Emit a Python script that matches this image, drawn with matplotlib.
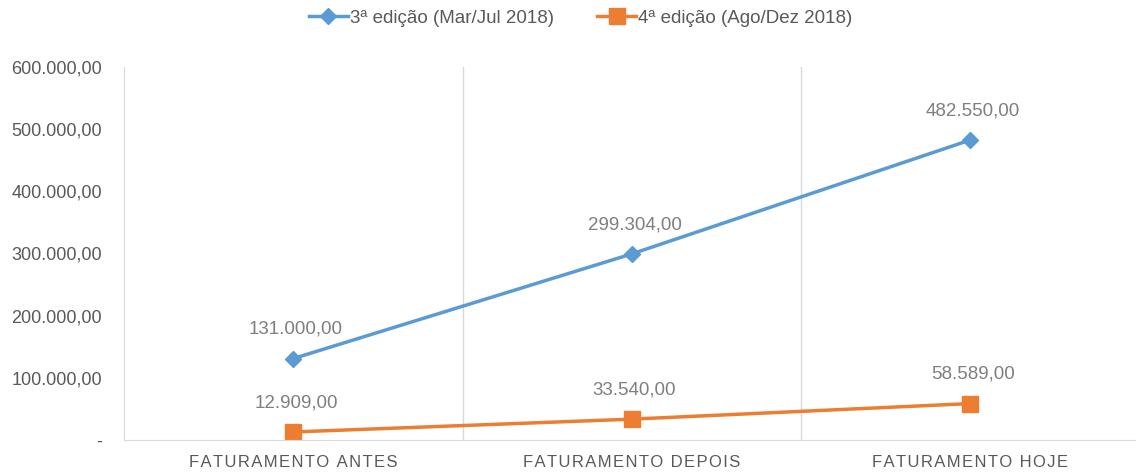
import matplotlib.pyplot as plt
from matplotlib.ticker import FuncFormatter

categorias = ['FATURAMENTO ANTES', 'FATURAMENTO DEPOIS', 'FATURAMENTO HOJE']
edicao3 = [131000.00, 299304.00, 482550.00]
edicao4 = [12909.00, 33540.00, 58589.00]
nome3 = '3ª edição (Mar/Jul 2018)'
nome4 = '4ª edição (Ago/Dez 2018)'

azul = '#5B9BD5'
laranja = '#ED7D31'
cinza = '#595959'
cinza_rotulo = '#7F7F7F'
grade = '#D9D9D9'

plt.rcParams['font.family'] = ['Liberation Sans', 'DejaVu Sans']


def br(v, pos=None):
    if v == 0:
        return '-'
    s = f'{v:,.2f}'
    return s.replace(',', 'X').replace('.', ',').replace('X', '.')


def espacar(t):
    return '\u200a'.join(t)


fig = plt.figure(figsize=(11.36, 4.73), dpi=100)
ax = fig.add_axes([124 / 1136, 33 / 473, 1012 / 1136, 373 / 473])

x = range(len(categorias))
ax.plot(x, edicao3, color=azul, lw=2.5, marker='D', ms=8.5, label=nome3)
ax.plot(x, edicao4, color=laranja, lw=2.5, marker='s', ms=11, label=nome4)

for xi, v in zip(x, edicao3):
    ax.annotate(br(v), (xi, v), xytext=(2, 15), textcoords='offset points',
                ha='center', va='bottom', color=cinza_rotulo, fontsize=13.5)
for xi, v in zip(x, edicao4):
    ax.annotate(br(v), (xi, v), xytext=(2, 15), textcoords='offset points',
                ha='center', va='bottom', color=cinza_rotulo, fontsize=13.5)

ax.set_xlim(-0.5, -0.5 + 1012 / 338.5)
ax.set_ylim(0, 600000)
ax.set_yticks(range(0, 600001, 100000))
ax.yaxis.set_major_formatter(FuncFormatter(br))
ax.set_xticks(list(x))
ax.set_xticklabels([espacar(c) for c in categorias])
ax.tick_params(axis='y', length=0, pad=16, labelsize=13, labelcolor=cinza)
ax.tick_params(axis='x', length=0, pad=11, labelsize=12, labelcolor=cinza)

for b in [0.5, 1.5]:
    ax.axvline(b, color=grade, lw=1, zorder=0)

for s in ['top', 'right']:
    ax.spines[s].set_visible(False)
ax.spines['left'].set_color(grade)
ax.spines['bottom'].set_color(grade)

fig.legend(loc='upper center', bbox_to_anchor=(0.511, 1.015), ncol=2, frameon=False,
           fontsize=13.5, labelcolor=cinza, handlelength=2.1, columnspacing=2.3,
           handletextpad=0.1)

fig.savefig('out.png', dpi=100)
